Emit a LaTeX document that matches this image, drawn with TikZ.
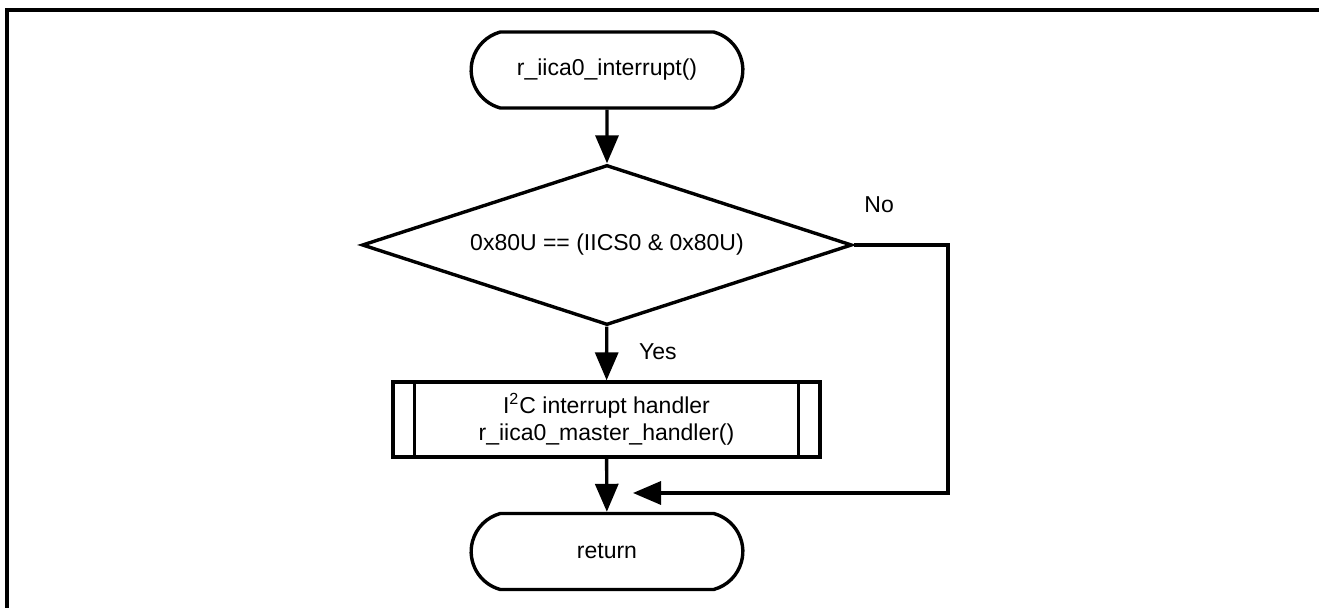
\documentclass[tikz,border=0pt]{standalone}
\usepackage{fontspec}
\setmainfont{Liberation Sans}
\usetikzlibrary{shapes.geometric,shapes.misc,arrows.meta}

\tikzset{
  line/.style={line width=1.7pt},
  arr/.style={line, -{Triangle[length=14pt,width=11.5pt]}},
  term/.style={line, draw, rounded rectangle, rounded rectangle arc length=150, minimum width=142.5pt, minimum height=38pt},
  decide/.style={line, draw, diamond, aspect=3.06, inner sep=0pt, minimum width=245pt, minimum height=80pt},
  subproc/.style={line, draw, rectangle, align=center, minimum width=213.5pt, minimum height=37.5pt}
}

\begin{document}
\begin{tikzpicture}[x=0.5pt,y=-0.5pt,font=\fontsize{11.5}{13.8}\selectfont]
  \useasboundingbox (0,0) rectangle (1319,608);
  % frame
  \draw[line] (7,608) -- (7,10) -- (1319,10);

  \node[term] (start) at (607,70) {r\_iica0\_interrupt()};
  \node[decide] (dec) at (607,245) {0x80U == (IICS0 \& 0x80U)};
  \node[subproc] (proc) at (606.5,419.5) {I\textsuperscript{2}C interrupt handler\\r\_iica0\_master\_handler()};
  \draw[line] ([xshift=11.5pt]proc.north west) -- ([xshift=11.5pt]proc.south west);
  \draw[line] ([xshift=-11.5pt]proc.north east) -- ([xshift=-11.5pt]proc.south east);
  \node[term] (ret) at (607,551.5) {return};

  \coordinate (nocorner) at (948,245);
  \coordinate (merge) at (633,493);

  \draw[arr] (start) -- (dec);
  \draw[arr] (dec) -- node[right, xshift=12pt, yshift=1pt] {Yes} (proc);
  \draw[arr] (proc) -- (ret);
  \draw[arr] (dec.east) -- node[above, pos=0.27, yshift=12pt] {No} (nocorner) |- (merge);
\end{tikzpicture}
\end{document}
